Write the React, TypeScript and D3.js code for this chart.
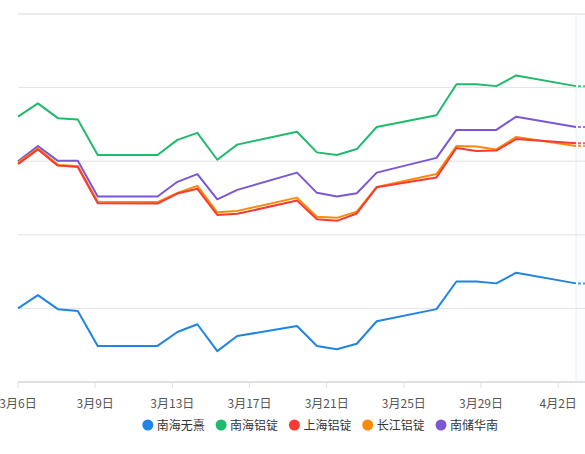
import React from "react";
import * as d3 from "d3";

const dayIndex = d3.range(29);
const tickLabels = ["3月6日", "3月9日", "3月13日", "3月17日", "3月21日", "3月25日", "3月29日", "4月2日"];
const seriesNames = ["南海无熹", "南海铝锭", "上海铝锭", "长江铝锭", "南储华南"];
const seriesColors = ["#1f84e4", "#1fba6d", "#f53b34", "#f98b09", "#7b56d5"];

const _ = null;
const blueVals = [20.0, 23.6, 19.8, 19.3, 9.8, _, _, 9.8, 13.6, 15.7, 8.4, 12.5, _, _, 15.2, 9.8, 8.9, 10.4, 16.5, _, _, 19.8, 27.3, 27.3, 26.8, 29.7, _, _, 26.8];
const greenVals = [72.1, 75.7, 71.7, 71.3, 61.7, _, _, 61.7, 65.8, 67.7, 60.4, 64.5, _, _, 68.0, 62.4, 61.7, 63.3, 69.3, _, _, 72.5, 80.9, 80.9, 80.4, 83.3, _, _, 80.4];
const redVals = [59.2, 63.2, 58.8, 58.4, 48.6, _, _, 48.5, 51.2, 52.5, 45.4, 45.7, _, _, 49.3, 44.2, 43.8, 45.8, 52.9, _, _, 55.6, 63.6, 62.8, 62.9, 66.0, _, _, 64.9];
const orangeVals = [59.6, 63.5, 59.0, 58.7, 49.0, _, _, 48.9, 51.4, 53.3, 46.1, 46.5, _, _, 50.1, 44.9, 44.6, 46.3, 53.0, _, _, 56.5, 64.1, 64.0, 63.2, 66.6, _, _, 64.1];
const purpleVals = [60.0, 64.1, 60.1, 60.1, 50.4, _, _, 50.4, 54.4, 56.5, 49.6, 52.2, _, _, 56.9, 51.4, 50.4, 51.3, 56.9, _, _, 60.9, 68.5, 68.5, 68.5, 72.1, _, _, 69.3];
const yTicks = [0, 20, 40, 60, 80, 100];

const allSeries = [blueVals, greenVals, redVals, orangeVals, purpleVals];
const drawOrder = [1, 4, 3, 2, 0];

export default function App() {
  const W = 585, H = 454;
  const left = 18, right = 576, top = 14, bottom = 382;
  const x = d3.scaleLinear().domain([0, dayIndex.length - 1]).range([left, right]);
  const y = d3.scaleLinear().domain([0, 100]).range([bottom, top]);
  const tickX = d3.scaleLinear().domain([0, tickLabels.length - 1]).range([18, 558.2]);

  const line = d3
    .line<[number, number]>()
    .x((d) => x(d[0]))
    .y((d) => y(d[1]));

  const font = "'Noto Sans CJK SC', 'Noto Sans', sans-serif";
  const legendStart = 147.8;
  const legendStep = 73.3;

  return (
    <svg width={W} height={H} style={{ position: "absolute", left: 0, top: 0, background: "#fff" }}>
      <rect x={right} y={top} width={W - right} height={bottom - top} fill="#fbfcfe" />
      {yTicks.slice(1).map((t) => (
        <line key={t} x1={left} x2={W} y1={y(t)} y2={y(t)} stroke={t === 100 ? "#ececec" : "#e3e3e3"} strokeWidth={t === 100 ? 2 : 1} />
      ))}
      <line x1={right} x2={right} y1={top} y2={bottom} stroke="#eaecf1" strokeWidth={1} />
      <line x1={left} x2={W} y1={y(0)} y2={y(0)} stroke="#e0e0e0" strokeWidth={2} />
      {tickLabels.map((lab, i) => (
        <g key={lab}>
          <line x1={tickX(i)} x2={tickX(i)} y1={y(0)} y2={y(0) + 6} stroke="#e0e0e0" strokeWidth={1} />
          <text x={tickX(i)} y={408} textAnchor="middle" fontSize={12} fill="#555" fontFamily={font}>
            {lab}
          </text>
        </g>
      ))}
      {drawOrder.map((si) => {
        const pts = allSeries[si]
          .map((v, i) => [dayIndex[i], v] as [number, number | null])
          .filter((p) => p[1] !== null) as [number, number][];
        const last = pts[pts.length - 1];
        return (
          <g key={si}>
            <path d={line(pts) || ""} fill="none" stroke={seriesColors[si]} strokeWidth={2} strokeLinejoin="round" />
            <line x1={x(last[0]) + 2} x2={W + 4} y1={y(last[1])} y2={y(last[1])} stroke={seriesColors[si]} strokeWidth={2} strokeDasharray="3,2" opacity={0.8} />
          </g>
        );
      })}
      {seriesNames.map((n, i) => {
        const cx = legendStart + i * legendStep;
        return (
          <g key={n}>
            <circle cx={cx} cy={425} r={5.5} fill={seriesColors[i]} />
            <text x={cx + 9} y={429.5} fontSize={12} fill="#333" fontFamily={font}>
              {n}
            </text>
          </g>
        );
      })}
    </svg>
  );
}
